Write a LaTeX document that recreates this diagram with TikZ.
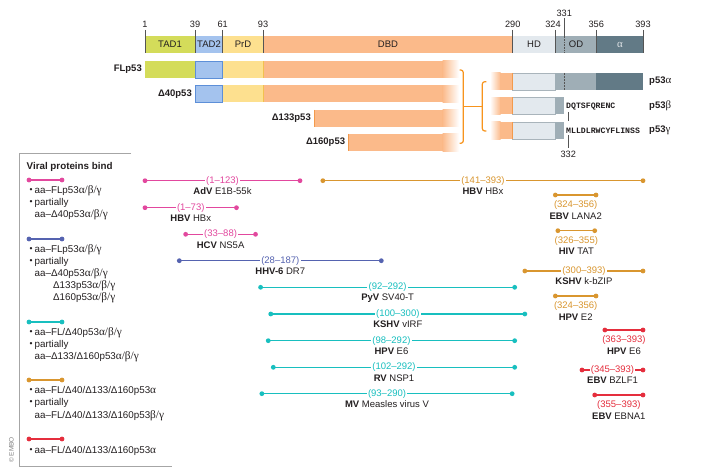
\documentclass[tikz,border=0pt]{standalone}
\usepackage{fontspec}
\setmainfont{Liberation Sans}
\newfontfamily\grk[Scale=1.15]{Liberation Serif}
\newfontfamily\monof{Liberation Mono}
\usetikzlibrary{calc}
\definecolor{cpink}{HTML}{E2489E}
\definecolor{cblue}{HTML}{5563B0}
\definecolor{ccyan}{HTML}{18BFBF}
\definecolor{cgold}{HTML}{D9962F}
\definecolor{cred}{HTML}{E52E3D}
\definecolor{tadone}{HTML}{D4DC5A}
\definecolor{tadtwo}{HTML}{A4C3EE}
\definecolor{tadtwoD}{HTML}{5D8FD8}
\definecolor{prd}{HTML}{FDE08F}
\definecolor{prdD}{HTML}{F2C14E}
\definecolor{dbd}{HTML}{FBBA8A}
\definecolor{dbdD}{HTML}{F39A4C}
\definecolor{hd}{HTML}{E3E9EE}
\definecolor{hdD}{HTML}{A9B4BB}
\definecolor{od}{HTML}{9FAEB6}
\definecolor{alp}{HTML}{627A86}
\definecolor{brk}{HTML}{F7941D}
\definecolor{txt}{HTML}{231F20}
\definecolor{tick}{HTML}{555555}
\newcommand\abg{{\grk α/β/γ}}
\newcommand\vir[9]{%
  \coordinate (#1a) at ({145+(#4-1)*1.2704},#3);
  \coordinate (#1b) at ({145+(#5-1)*1.2704},#3);
  \draw[vl,draw=#2] (#1a) -- (#1b);
  \fill[#2] (#1a) circle[radius=2.4pt] (#1b) circle[radius=2.4pt];
  \ifnum#9=0
    \node[rng,text=#2] (#1r) at ($(#1a)!0.5!(#1b)$) {#6};
    \node[vname] (#1n) at ($(#1a)!0.5!(#1b)+(0,10.5)$) {\textbf{#7} #8};
  \else
    \node[rng,text=#2] (#1r) at ($(#1a)!0.5!(#1b)+(0,10.3)$) {#6};
    \node[vname] (#1n) at ($(#1a)!0.5!(#1b)+(0,20.8)$) {\textbf{#7} #8};
  \fi
}
\newcommand\legline[3]{%
  \coordinate (#1a) at (29,#3);
  \coordinate (#1b) at (62,#3);
  \draw[vl,draw=#2] (#1a) -- (#1b);
  \fill[#2] (#1a) circle[radius=2.4pt] (#1b) circle[radius=2.4pt];
}
\begin{document}
\begin{tikzpicture}[x=1pt,y=-1pt,
  font=\fontsize{9.5}{11}\selectfont, text=txt,
  vl/.style={line width=1.4pt},
  rng/.style={fill=white,inner sep=1.3pt,font=\fontsize{9.5}{11}\selectfont},
  vname/.style={inner sep=1pt,text=txt},
  num/.style={inner sep=0.5pt,text=txt,font=\fontsize{9.2}{10}\selectfont},
  tk/.style={draw=tick,line width=0.6pt},
  dom/.style={inner sep=0pt,text=txt},
  iso/.style={anchor=east,inner sep=1pt,font=\fontsize{9.5}{10}\selectfont\bfseries},
  isor/.style={anchor=west,inner sep=1pt,font=\fontsize{9.5}{10}\selectfont\bfseries},
  bk/.style={draw=brk,line width=1.2pt,rounded corners=2.5pt},
  lg/.style={anchor=west,inner sep=0pt,font=\fontsize{9.8}{11}\selectfont},
  bul/.style={inner sep=0pt,font=\fontsize{8.5}{10}\selectfont},
]
\useasboundingbox[fill=white] (0,0) rectangle (709,476);

% ---------- top domain bar ----------
\fill[tadone] (145,35.7) rectangle (195,52.7);
\fill[tadtwo] (195,35.7) rectangle (222.7,52.7);
\fill[prd] (222.7,35.7) rectangle (263,52.7);
\fill[dbd] (263,35.7) rectangle (512.7,52.7);
\fill[hd] (512.7,35.7) rectangle (555.3,52.7);
\fill[od] (555.3,35.7) rectangle (596.3,52.7);
\fill[alp] (596.3,35.7) rectangle (643,52.7);
\draw[tk] (145,30) -- (145,52.7);
\draw[tk] (195,30) -- (195,52.7);
\draw[tk] (222.7,30) -- (222.7,52.7);
\draw[tk] (263,30) -- (263,52.7);
\draw[tk] (512.7,30) -- (512.7,52.7);
\draw[tk] (555.3,30) -- (555.3,52.7);
\draw[tk] (564.3,18) -- (564.3,35.7);
\draw[tk,densely dotted] (564.3,35.7) -- (564.3,52.7);
\draw[tk] (596.3,30) -- (596.3,52.7);
\draw[tk] (643,30) -- (643,52.7);
\node[num] (n1) at (145,24.5) {1};
\node[num] (n39) at (195,24.5) {39};
\node[num] (n61) at (222.7,24.5) {61};
\node[num] (n93) at (263,24.5) {93};
\node[num] (n290) at (512.7,24.5) {290};
\node[num] (n324) at (553,24.5) {324};
\node[num] (n331) at (564.3,13) {331};
\node[num] (n356) at (596.3,24.5) {356};
\node[num] (n393) at (643,24.5) {393};
\node[dom] (dt1) at (170,44.5) {TAD1};
\node[dom] (dt2) at (209,44.5) {TAD2};
\node[dom] (dpr) at (243,44.5) {PrD};
\node[dom] (ddb) at (388,44.5) {DBD};
\node[dom] (dhd) at (534,44.5) {HD};
\node[dom] (dod) at (576,44.5) {OD};
\node[dom,text=white!80!alp] (dal) at (620,44.5) {\grk α};

% ---------- N-terminal isoforms ----------
% FLp53
\fill[tadone] (145,61) rectangle (195,78);
\filldraw[fill=tadtwo,draw=tadtwoD,line width=0.5pt] (195,61) rectangle (222.7,78);
\fill[prd] (222.7,61) rectangle (263,78);
\fill[dbd] (263,61) rectangle (443,78);
\shade[left color=dbd,right color=white] (442.5,61) rectangle (459,78);
\draw[prdD,line width=0.6pt] (263,61) -- (263,78);
% D40
\filldraw[fill=tadtwo,draw=tadtwoD,line width=0.5pt] (195,85.5) rectangle (222.7,102.5);
\fill[prd] (222.7,85.5) rectangle (263,102.5);
\fill[dbd] (263,85.5) rectangle (443,102.5);
\shade[left color=dbd,right color=white] (442.5,85.5) rectangle (459,102.5);
\draw[prdD,line width=0.6pt] (263,85.5) -- (263,102.5);
% D133
\fill[dbd] (314,110) rectangle (443,127);
\shade[left color=dbd,right color=white] (442.5,110) rectangle (459,127);
\draw[dbdD,line width=0.5pt] (314,110) -- (314,127);
% D160
\fill[dbd] (348.3,134) rectangle (443,151);
\shade[left color=dbd,right color=white] (442.5,134) rectangle (459,151);
\draw[dbdD,line width=0.5pt] (348.3,134) -- (348.3,151);
\node[iso] (fl) at (143,69.5) {FLp53};
\node[iso] (d40) at (193,94) {Δ40p53};
\node[iso] (d133) at (312,118.5) {Δ133p53};
\node[iso] (d160) at (346.3,142.5) {Δ160p53};

% ---------- brackets ----------
\draw[bk] (459.5,70) -- (463.3,70) -- (463.3,143.3) -- (459.5,143.3);
\draw[bk] (463.3,106.7) -- (482.3,106.7);
\draw[bk] (486.3,81.7) -- (482.3,81.7) -- (482.3,131) -- (486.3,131);

% ---------- C-terminal isoforms ----------
% alpha
\shade[left color=white,right color=dbd] (490,73) rectangle (500.5,90);
\fill[dbd] (500,73) rectangle (512.7,90);
\filldraw[fill=hd,draw=hdD,line width=0.5pt] (512.7,73) rectangle (555.3,90);
\fill[od] (555.3,73) rectangle (596.3,90);
\fill[alp] (596.3,73) rectangle (643,90);
\draw[dbdD,line width=0.6pt] (512.7,73) -- (512.7,90);
\draw[tick,line width=0.5pt,densely dotted] (564.3,73) -- (564.3,90);
% beta
\shade[left color=white,right color=dbd] (490,97.5) rectangle (500.5,114.5);
\fill[dbd] (500,97.5) rectangle (512.7,114.5);
\filldraw[fill=hd,draw=hdD,line width=0.5pt] (512.7,97.5) rectangle (555.3,114.5);
\fill[od] (555.3,97.5) rectangle (564.3,114.5);
\draw[dbdD,line width=0.6pt] (512.7,97.5) -- (512.7,114.5);
% gamma
\shade[left color=white,right color=dbd] (490,122) rectangle (500.5,139);
\fill[dbd] (500,122) rectangle (512.7,139);
\filldraw[fill=hd,draw=hdD,line width=0.5pt] (512.7,122) rectangle (555.3,139);
\fill[od] (555.3,122) rectangle (564.3,139);
\draw[dbdD,line width=0.6pt] (512.7,122) -- (512.7,139);
\node[anchor=west,inner sep=0pt,font=\monof\bfseries\fontsize{8.2}{9}\selectfont] (sb) at (566,106.3) {DQTSFQRENC};
\node[anchor=west,inner sep=0pt,font=\monof\bfseries\fontsize{8.2}{9}\selectfont] (sg) at (566,130.5) {MLLDLRWCYFLINSS};
\coordinate (t332a) at (568.3,112);
\coordinate (t332b) at (568.3,121.5);
\coordinate (t332c) at (568.3,135.5);
\coordinate (t332d) at (568.3,148);
\draw[tk] (t332a) -- (t332b);
\draw[tk] (t332c) -- (t332d);
\node[num] (n332) at (568.3,154.5) {332};
\node[isor] (pa) at (648,81.5) {p53{\grk\mdseries α}};
\node[isor] (pb) at (648,106) {p53{\grk\mdseries β}};
\node[isor] (pg) at (648,130.5) {p53{\grk\mdseries γ}};

% ---------- viral interaction lines ----------
\vir{adv}{cpink}{180.7}{1}{123}{(1–123)}{AdV}{E1B-55k}{0}
\vir{hbvp}{cpink}{207.7}{1}{73}{(1–73)}{HBV}{HBx}{0}
\vir{hcv}{cpink}{234.3}{33}{88}{(33–88)}{HCV}{NS5A}{0}
\vir{hhv}{cblue}{260.7}{28}{187}{(28–187)}{HHV-6}{DR7}{0}
\vir{hbvo}{cgold}{180.7}{141}{393}{(141–393)}{HBV}{HBx}{0}
\vir{ebvl}{cgold}{195}{324}{356}{(324–356)}{EBV}{LANA2}{1}
\vir{hiv}{cgold}{230.7}{326}{355}{(326–355)}{HIV}{TAT}{1}
\vir{kshvk}{cgold}{271}{300}{393}{(300–393)}{KSHV}{k-bZIP}{0}
\vir{hpve}{cgold}{296}{324}{356}{(324–356)}{HPV}{E2}{1}
\vir{pyv}{ccyan}{287.3}{92}{292}{(92–292)}{PyV}{SV40-T}{0}
\vir{kshvv}{ccyan}{314}{100}{300}{(100–300)}{KSHV}{vIRF}{0}
\vir{hpvc}{ccyan}{340.7}{98}{292}{(98–292)}{HPV}{E6}{0}
\vir{rv}{ccyan}{367.3}{102}{292}{(102–292)}{RV}{NSP1}{0}
\vir{mv}{ccyan}{393.7}{93}{290}{(93–290)}{MV}{Measles virus V}{0}
\vir{hpvr}{cred}{330}{363}{393}{(363–393)}{HPV}{E6}{1}
\vir{bzl}{cred}{370}{345}{393}{(345–393)}{EBV}{BZLF1}{0}
\vir{ebn}{cred}{395}{355}{393}{(355–393)}{EBV}{EBNA1}{1}

% ---------- legend ----------
\draw[draw=gray!70,line width=0.6pt] (131,153) -- (19,153) -- (19,466.5) -- (172,466.5);
\node[lg,font=\fontsize{9.8}{11}\selectfont\bfseries] (lt) at (26.5,166.5) {Viral proteins bind};
\legline{lp}{cpink}{180}
\node[bul] (lp1b) at (31,191) {•}; \node[lg] (lp1) at (34.5,191) {aa–FLp53\abg};
\node[bul] (lp2b) at (31,203) {•}; \node[lg] (lp2) at (34.5,203) {partially};
\node[lg] (lp3) at (34.5,215) {aa–Δ40p53\abg};
\legline{lb}{cblue}{239}
\node[bul] (lb1b) at (31,250) {•}; \node[lg] (lb1) at (34.5,250) {aa–FLp53\abg};
\node[bul] (lb2b) at (31,262) {•}; \node[lg] (lb2) at (34.5,262) {partially};
\node[lg] (lb3) at (34.5,274) {aa–Δ40p53\abg};
\node[lg] (lb4) at (53,286) {Δ133p53\abg};
\node[lg] (lb5) at (53,298) {Δ160p53\abg};
\legline{lc}{ccyan}{322}
\node[bul] (lc1b) at (31,333) {•}; \node[lg] (lc1) at (34.5,333) {aa–FL/Δ40p53\abg};
\node[bul] (lc2b) at (31,345) {•}; \node[lg] (lc2) at (34.5,345) {partially};
\node[lg] (lc3) at (34.5,357) {aa–Δ133/Δ160p53\abg};
\legline{lo}{cgold}{380}
\node[bul] (lo1b) at (31,391) {•}; \node[lg] (lo1) at (34.5,391) {aa–FL/Δ40/Δ133/Δ160p53{\grk α}};
\node[bul] (lo2b) at (31,403) {•}; \node[lg] (lo2) at (34.5,403) {partially};
\node[lg] (lo3) at (34.5,415.5) {aa–FL/Δ40/Δ133/Δ160p53{\grk β/γ}};
\legline{lr}{cred}{439}
\node[bul] (lr1b) at (31,451) {•}; \node[lg] (lr1) at (34.5,451) {aa–FL/Δ40/Δ133/Δ160p53{\grk α}};
\node[rotate=90,inner sep=0pt,font=\fontsize{6.5}{7}\selectfont,text=gray] (embo) at (11.5,450) {© EMBO};
\end{tikzpicture}
\end{document}
